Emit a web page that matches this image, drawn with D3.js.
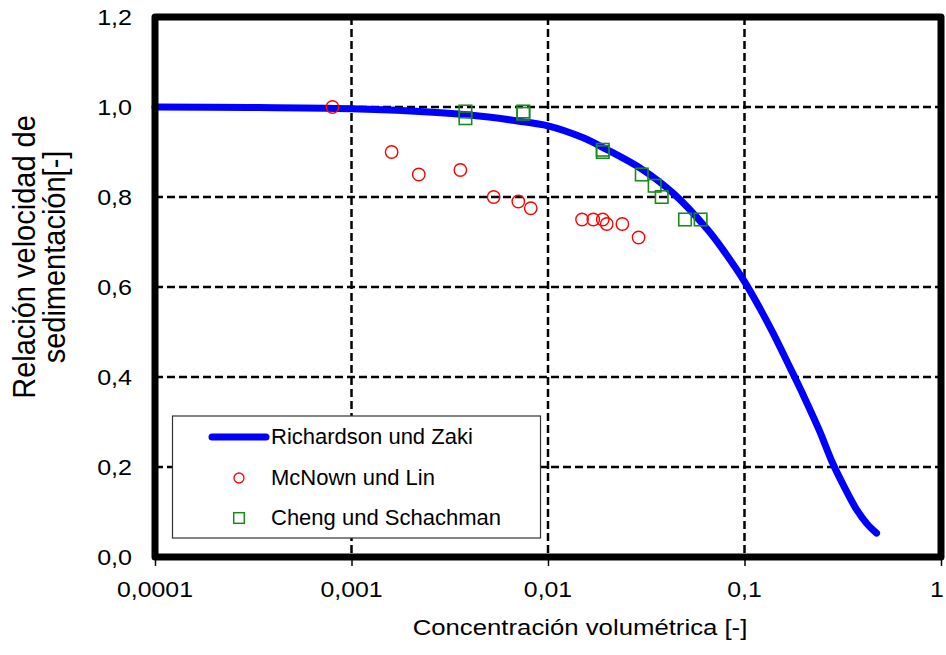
<!DOCTYPE html>
<html>
<head>
<meta charset="utf-8">
<script src="https://cdn.jsdelivr.net/npm/d3@7"></script>
<style>
  html, body { margin: 0; padding: 0; background: #fff; }
  svg { display: block; font-family: "Liberation Sans", Arial, sans-serif; }
</style>
</head>
<body>
<svg id="chart" width="946" height="655"></svg>
<script>
// ---- Data ----
const xTickValues = [0.0001, 0.001, 0.01, 0.1, 1];
const xTickLabels = ["0,0001", "0,001", "0,01", "0,1", "1"];
const yTickValues = [0, 0.2, 0.4, 0.6, 0.8, 1.0, 1.2];
const yTickLabels = ["0,0", "0,2", "0,4", "0,6", "0,8", "1,0", "1,2"];

// Richardson und Zaki (curve)
const rzConc  = [0.0001, 0.0003, 0.001, 0.002, 0.004, 0.007, 0.01, 0.015, 0.02, 0.03, 0.044, 0.065, 0.08, 0.1, 0.12, 0.14, 0.17, 0.2, 0.24, 0.28, 0.32, 0.37, 0.42, 0.47];
const rzRatio = [1.000, 0.999, 0.996, 0.991, 0.982, 0.969, 0.958, 0.932, 0.905, 0.862, 0.806, 0.727, 0.675, 0.612, 0.552, 0.497, 0.422, 0.358, 0.282, 0.210, 0.158, 0.107, 0.074, 0.053];

// McNown und Lin (circles)
const mlConc  = [0.0008, 0.0016, 0.0022, 0.00358, 0.00529, 0.00706, 0.00817, 0.0149, 0.0170, 0.0190, 0.0199, 0.0239, 0.0289];
const mlRatio = [1.000, 0.900, 0.850, 0.860, 0.800, 0.790, 0.775, 0.750, 0.750, 0.750, 0.740, 0.740, 0.710];

// Cheng und Schachman (squares)
const csConc  = [0.0038, 0.0038, 0.00749, 0.00749, 0.0190, 0.0190, 0.0300, 0.0349, 0.0379, 0.0498, 0.0598];
const csRatio = [0.990, 0.975, 0.990, 0.985, 0.905, 0.900, 0.850, 0.825, 0.800, 0.750, 0.750];

const seriesNames = ["Richardson und Zaki", "McNown und Lin", "Cheng und Schachman"];
const xTitle = "Concentración volumétrica [-]";
const yTitleLines = ["Relación velocidad de", "sedimentación[-]"];

// ---- Layout ----
const svg = d3.select("#chart");
const L = 155, R = 941, T = 17, B = 557;

const x = d3.scaleLog().domain([0.0001, 1]).range([L, R]);
const y = d3.scaleLinear().domain([0, 1.2]).range([B, T]);

const BLUE = "#0000ff", RED = "#ff0000", GREEN = "#1a8a1a";

// Grid lines
const grid = svg.append("g");
grid.selectAll("line.vx").data(xTickValues.slice(1, -1)).join("line")
  .attr("x1", d => x(d)).attr("x2", d => x(d)).attr("y1", T).attr("y2", B)
  .attr("stroke", "#000").attr("stroke-width", 2.5).attr("stroke-dasharray", "8,4");
grid.selectAll("line.hy").data(yTickValues.slice(1, -1)).join("line")
  .attr("x1", L).attr("x2", R).attr("y1", d => y(d)).attr("y2", d => y(d))
  .attr("stroke", "#000").attr("stroke-width", 2.5).attr("stroke-dasharray", "8,4");

// X axis ticks (outside, below)
const xAxis = d3.axisBottom(x).tickValues(xTickValues).tickSize(6).tickFormat(() => "");
const gx = svg.append("g").attr("transform", `translate(0,${B + 3})`).call(xAxis);
gx.select(".domain").remove();
gx.selectAll(".tick line").attr("stroke", "#000").attr("stroke-width", 1.5);

// X tick labels
svg.append("g").selectAll("text").data(xTickValues).join("text")
  .attr("transform", d => `translate(${Math.min(x(d), 937)},597) scale(1.13,1)`)
  .attr("text-anchor", "middle")
  .attr("font-size", 22)
  .attr("fill", "#000")
  .text((d, i) => xTickLabels[i]);

// Y tick labels
svg.append("g").selectAll("text").data(yTickValues).join("text")
  .attr("transform", d => `translate(132,${y(d) + 8}) scale(1.14,1)`)
  .attr("text-anchor", "end")
  .attr("font-size", 22)
  .attr("fill", "#000")
  .text((d, i) => yTickLabels[i]);

// X title
svg.append("text")
  .attr("transform", `translate(580,635) scale(1.17,1)`)
  .attr("text-anchor", "middle")
  .attr("font-size", 22)
  .attr("fill", "#000")
  .text(xTitle);

// Y title (two lines, rotated)
const yTitle = svg.append("g").attr("transform", "translate(0,257)");
yTitle.selectAll("text").data(yTitleLines).join("text")
  .attr("transform", (d, i) => `translate(${35 + i * 30},0) rotate(-90) scale(1,1.1)`)
  .attr("text-anchor", "middle")
  .attr("font-size", 29)
  .attr("fill", "#000")
  .text(d => d);

// Richardson-Zaki curve
const rzData = rzConc.map((c, i) => ({ c, v: rzRatio[i] }));
const line = d3.line().x(d => x(d.c)).y(d => y(d.v)).curve(d3.curveCatmullRom.alpha(0.5));
svg.append("path").datum(rzData)
  .attr("d", line)
  .attr("fill", "none")
  .attr("stroke", BLUE)
  .attr("stroke-width", 7)
  .attr("stroke-linecap", "round")
  .attr("stroke-linejoin", "round");

// McNown und Lin circles
svg.append("g").selectAll("circle").data(mlConc.map((c, i) => ({ c, v: mlRatio[i] }))).join("circle")
  .attr("cx", d => x(d.c)).attr("cy", d => y(d.v)).attr("r", 6.2)
  .attr("fill", "none").attr("stroke", RED).attr("stroke-width", 1.4);

// Cheng und Schachman squares
const sq = 12.5;
svg.append("g").selectAll("rect").data(csConc.map((c, i) => ({ c, v: csRatio[i] }))).join("rect")
  .attr("x", d => x(d.c) - sq / 2).attr("y", d => y(d.v) - sq / 2)
  .attr("width", sq).attr("height", sq)
  .attr("fill", "none").attr("stroke", GREEN).attr("stroke-width", 1.6);

// Legend
const lg = svg.append("g");
lg.append("rect").attr("x", 172.5).attr("y", 416).attr("width", 368).attr("height", 122)
  .attr("fill", "#fff").attr("stroke", "#333").attr("stroke-width", 1.2);
lg.append("line").attr("x1", 212).attr("x2", 266).attr("y1", 437).attr("y2", 437)
  .attr("stroke", BLUE).attr("stroke-width", 7).attr("stroke-linecap", "round");
lg.append("circle").attr("cx", 239).attr("cy", 478).attr("r", 5)
  .attr("fill", "none").attr("stroke", RED).attr("stroke-width", 1.3);
lg.append("rect").attr("x", 239 - 5.3).attr("y", 518 - 5.3).attr("width", 10.6).attr("height", 10.6)
  .attr("fill", "none").attr("stroke", GREEN).attr("stroke-width", 1.5);
lg.selectAll("text").data(seriesNames).join("text")
  .attr("x", 271)
  .attr("y", (d, i) => [444, 485, 525][i])
  .attr("font-size", 22)
  .attr("fill", "#000")
  .text(d => d);

// Plot border on top
svg.append("rect").attr("x", L).attr("y", T).attr("width", R - L).attr("height", B - T)
  .attr("fill", "none").attr("stroke", "#000").attr("stroke-width", 7)
  .attr("stroke-linejoin", "round");
</script>
</body>
</html>
